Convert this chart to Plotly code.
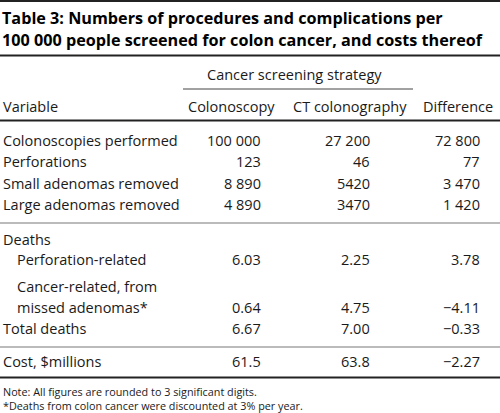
import plotly.graph_objects as go

# ---- data ----
title_lines = ["Table 3: Numbers of procedures and complications per",
               "100 000 people screened for colon cancer, and costs thereof"]
group_header = "Cancer screening strategy"
col_headers = ["Variable", "Colonoscopy", "CT colonography", "Difference"]
row_labels = ["Colonoscopies performed", "Perforations", "Small adenomas removed",
              "Large adenomas removed", "Deaths", "Perforation-related",
              "Cancer-related, from\nmissed adenomas*", "Total deaths", "Cost, $millions"]
row_indent = [False, False, False, False, False, True, True, False, False]
colonoscopy = ["100 000", "123", "8 890", "4 890", "", "6.03", "0.64", "6.67", "61.5"]
ct_colonography = ["27 200", "46", "5420", "3470", "", "2.25", "4.75", "7.00", "63.8"]
difference = ["72 800", "77", "3 470", "1 420", "", "3.78", "\u22124.11", "\u22120.33", "\u22122.27"]
notes = ["Note: All figures are rounded to 3 significant digits.",
         "*Deaths from colon cancer were discounted at 3% per year."]

# ---- layout ----
FONT = "Open Sans"
TXT = "#1a1a1a"
row_y = [140, 161, 183, 204, 239, 259, 307, 328, 361]
line_pitch = 21
value_right = [262, 371, 481]
header_centers = [231, 350, 458]

fig = go.Figure()
ann = []

def add(text, x, y, size=14.5, xanchor="left", bold=False, color=TXT):
    ann.append(dict(text=("<b>%s</b>" % text) if bold else text, x=x, y=y,
                    xref="x", yref="y", xanchor=xanchor, yanchor="middle",
                    borderpad=0, showarrow=False,
                    font=dict(family=FONT, size=size, color=color)))

for i, t in enumerate(title_lines):
    add(t, 1, 18 + 22 * i, size=16.2, bold=True, color="#000")

add(group_header, 294, 74, xanchor="center")
add(col_headers[0], 2, 106)
for c, h in zip(header_centers, col_headers[1:]):
    add(h, c, 106, xanchor="center")

for i, lab in enumerate(row_labels):
    parts = lab.split("\n")
    x0 = 16 if row_indent[i] else 2
    for k, p in enumerate(parts):
        add(p, x0, row_y[i] - line_pitch * (len(parts) - 1 - k))
    for xr, col in zip(value_right, [colonoscopy, ct_colonography, difference]):
        if col[i]:
            add(col[i], xr, row_y[i], xanchor="right")

for k, n in enumerate(notes):
    add(n, 2, 391 + 14 * k, size=10.8)

shapes = []
def hline(y, x0=0, x1=500, color="#222", w=2):
    shapes.append(dict(type="line", xref="x", yref="y", x0=x0, x1=x1, y0=y, y1=y,
                       line=dict(color=color, width=w)))

hline(1)
hline(55.5)
hline(89, 183, 413, color="#444", w=1)
hline(120.5)
hline(223, color="#bbbbbb", w=2)
hline(347, color="#bbbbbb", w=2)
hline(377.5)

fig.update_layout(width=500, height=413, margin=dict(l=0, r=0, t=0, b=0),
                  paper_bgcolor="white", plot_bgcolor="white",
                  xaxis=dict(range=[0, 500], visible=False, fixedrange=True),
                  yaxis=dict(range=[413, 0], visible=False, fixedrange=True),
                  annotations=ann, shapes=shapes, showlegend=False)
fig.write_html("out.html", config={"displayModeBar": False},
               post_script="document.body.style.margin='0';document.body.style.overflow='hidden';")
